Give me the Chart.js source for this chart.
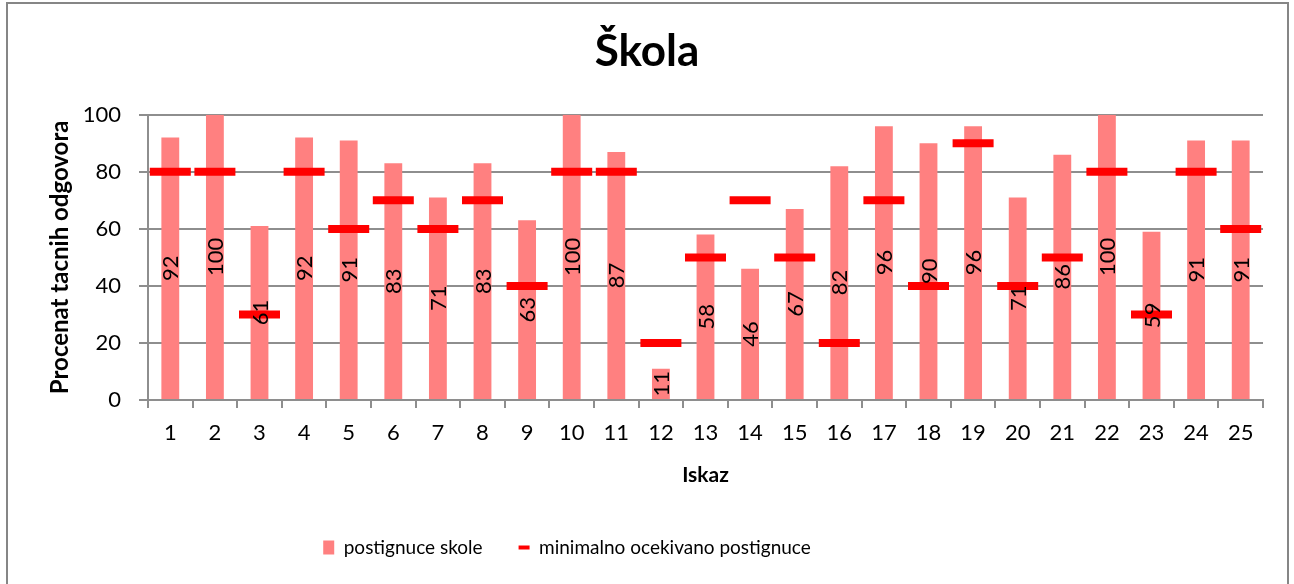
<!DOCTYPE html>
<html>
<head>
<meta charset="utf-8">
<title>Škola</title>
<script src="https://cdn.jsdelivr.net/npm/chart.js@4/dist/chart.umd.min.js"></script>
<style>
  html, body { margin: 0; padding: 0; background: #fff; }
  #chart { display: block; }
</style>
</head>
<body>
<canvas id="chart" width="1294" height="584"></canvas>
<script>
const items = ['1', '2', '3', '4', '5', '6', '7', '8', '9', '10', '11', '12', '13',
    '14', '15', '16', '17', '18', '19', '20', '21', '22', '23', '24', '25'];
const schoolScores = [92, 100, 61, 92, 91, 83, 71, 83, 63, 100, 87, 11, 58,
    46, 67, 82, 96, 90, 96, 71, 86, 100, 59, 91, 91];
const minimumExpected = [80, 80, 30, 80, 60, 70, 60, 70, 40, 80, 80, 20, 50,
    70, 50, 20, 70, 40, 90, 40, 50, 80, 30, 80, 60];

const gridColor = '#8e8e8e';
Chart.defaults.font.family = 'Lato';
Chart.defaults.color = '#000';

// frame round the whole chart, like the Excel chart border
const frame = {
    id: 'frame',
    beforeDraw(chart) {
        const c = chart.ctx;
        c.save();
        c.fillStyle = '#fff';
        c.fillRect(0, 0, chart.width, chart.height);
        c.strokeStyle = '#868686';
        c.lineWidth = 2;
        c.strokeRect(7, 3, 1281, 600);
        c.restore();
    },
    afterLayout(chart) {
        // excel legend sits left of centre
        chart.legend.left -= 80;
        chart.legend.right -= 80;
    }
};

// vertical value labels in the middle of each bar
const barLabels = {
    id: 'barLabels',
    afterDatasetsDraw(chart) {
        const c = chart.ctx;
        const meta = chart.getDatasetMeta(0);
        c.save();
        c.font = '22px Lato';
        c.fillStyle = '#000';
        c.textAlign = 'center';
        c.textBaseline = 'middle';
        meta.data.forEach((bar, i) => {
            const y = (bar.y + bar.base) / 2;
            c.save();
            c.translate(bar.x + 1, y);
            c.rotate(-Math.PI / 2);
            c.fillText(String(schoolScores[i]), 0, 0);
            c.restore();
        });
        c.restore();
    }
};

const chart = new Chart(document.getElementById('chart'), {
    type: 'bar',
    data: {
        labels: items,
        datasets: [
            {
                label: 'postignuce skole',
                data: schoolScores,
                backgroundColor: '#FF8080',
                barPercentage: 0.4,
                categoryPercentage: 1,
                order: 1
            },
            {
                type: 'line',
                label: 'minimalno ocekivano postignuce',
                data: minimumExpected,
                showLine: false,
                pointStyle: 'line',
                pointRadius: 20.5,
                pointHoverRadius: 20.5,
                pointBorderWidth: 8,
                pointHoverBorderWidth: 8,
                pointBorderColor: '#FF0000',
                pointBackgroundColor: '#FF0000',
                borderColor: '#FF0000',
                order: 0
            }
        ]
    },
    options: {
        responsive: false,
        animation: false,
        layout: { padding: { top: 0, left: 0, right: 0, bottom: 17 } },
        scales: {
            x: {
                grid: {
                    display: true,
                    drawOnChartArea: false,
                    drawTicks: true,
                    tickLength: 8,
                    color: gridColor,
                    lineWidth: 2
                },
                border: { display: true, color: gridColor, width: 2 },
                ticks: { font: { size: 22 }, padding: 12, color: '#000', maxRotation: 0 },
                title: {
                    display: true,
                    text: 'Iskaz',
                    font: { size: 21, weight: 'bold' },
                    color: '#000',
                    padding: { top: 0, bottom: 14 }
                },
                afterFit(s) { s.height = 102; }
            },
            y: {
                min: 0,
                max: 100,
                ticks: { stepSize: 20, font: { size: 22 }, padding: 18, color: '#000' },
                grid: { color: gridColor, lineWidth: 2, tickLength: 9 },
                border: { display: true, color: gridColor, width: 2 },
                title: {
                    display: true,
                    text: 'Procenat tacnih odgovora',
                    font: { size: 24, weight: 'bold' },
                    color: '#000',
                    padding: { top: 46, bottom: 0 }
                },
                afterFit(s) { s.width = 148; }
            },
            yRight: {
                type: 'linear',
                position: 'right',
                display: true,
                grid: { display: false },
                ticks: { display: false },
                border: { display: false },
                afterFit(s) { s.width = 31; }
            }
        },
        plugins: {
            title: {
                display: true,
                text: 'Škola',
                color: '#000',
                font: { size: 44, weight: 'bold' },
                padding: { top: 25, bottom: 37 }
            },
            legend: {
                position: 'bottom',
                labels: {
                    usePointStyle: true,
                    pointStyleWidth: 11,
                    boxHeight: 14,
                    padding: 36,
                    color: '#000',
                    font: { size: 19 },
                    sort: (a, b) => a.datasetIndex - b.datasetIndex,
                    generateLabels(chart) {
                        const list = Chart.defaults.plugins.legend.labels.generateLabels(chart);
                        for (const it of list) {
                            if (it.datasetIndex === 0) {
                                it.pointStyle = 'rect';
                                it.lineWidth = 0;
                                it.fillStyle = '#FF8080';
                            } else {
                                it.pointStyle = 'line';
                                it.lineWidth = 4;
                                it.strokeStyle = '#FF0000';
                            }
                        }
                        return list;
                    }
                }
            },
            tooltip: { enabled: false }
        }
    },
    plugins: [frame, barLabels]
});
</script>
</body>
</html>
